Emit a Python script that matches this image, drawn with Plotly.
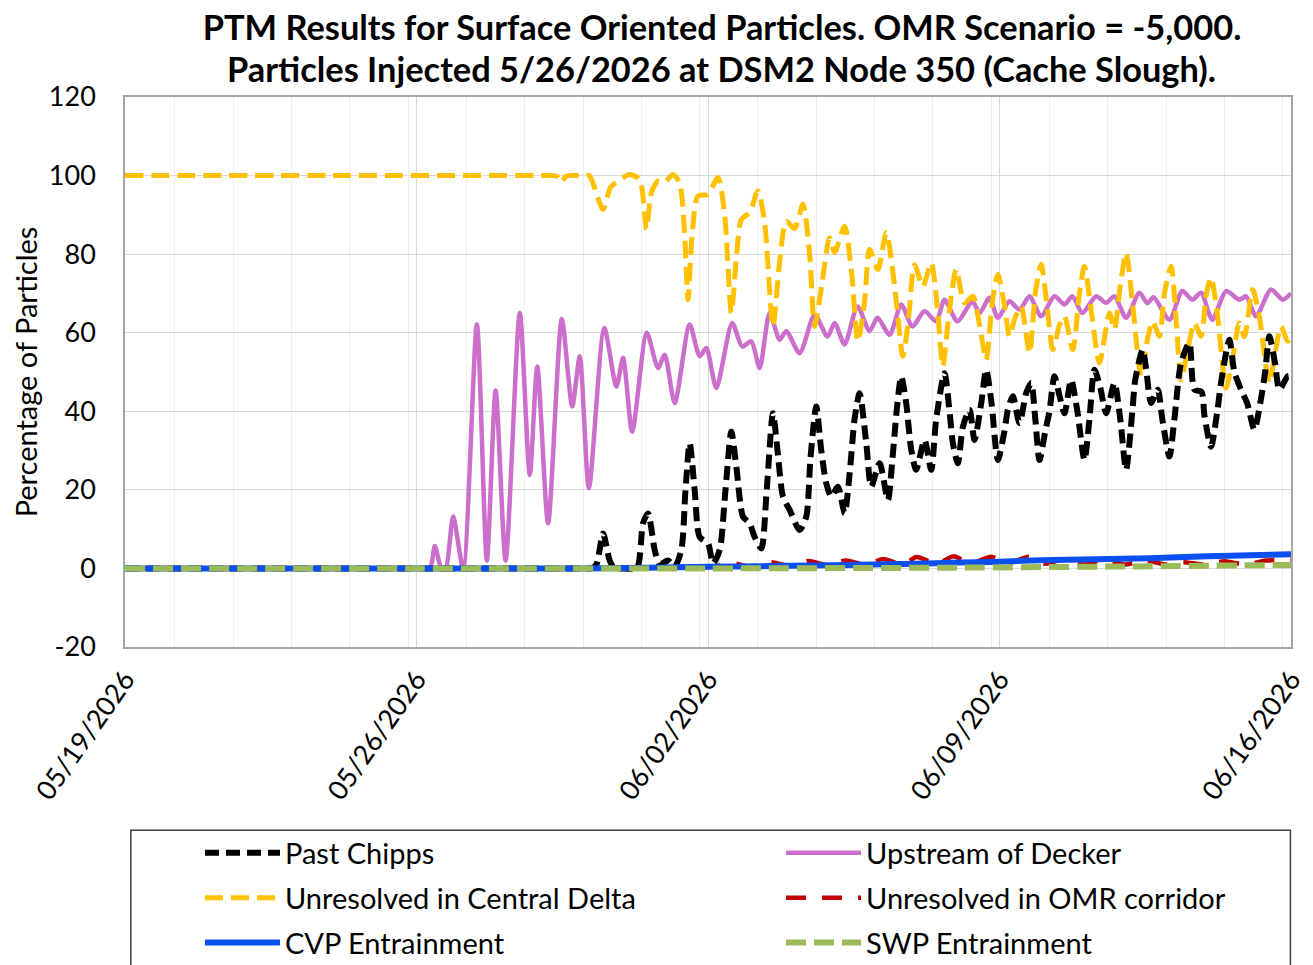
import pandas as pd
import plotly.graph_objects as go

START = pd.Timestamp("2026-05-19")

# ---------------- data (days since 05/19/2026 00:00, percent of particles) -------------
chipps_day = [0, 5, 10, 11.0, 11.2, 11.32, 11.48, 11.64, 11.76, 12.0, 12.29, 12.44, 12.56, 12.72, 12.84, 13.04,
              13.2, 13.36, 13.46,
              13.56, 13.68, 13.8, 14.0, 14.12, 14.28, 14.42, 14.56, 14.69, 14.84, 15.0, 15.12, 15.28, 15.41,
              15.56, 15.67, 15.8, 15.96, 16.2, 16.36, 16.46, 16.6, 16.72, 16.84, 16.96, 17.12, 17.28, 17.4,
              17.52, 17.64, 17.8, 17.92, 18.12, 18.32, 18.43, 18.53, 18.64, 18.76, 18.88, 19.0, 19.2, 19.36,
              19.48, 19.68, 19.8, 19.88, 20.0, 20.12, 20.28, 20.4, 20.56, 20.68, 20.81, 20.96, 21.12, 21.2,
              21.32, 21.48, 21.64, 21.76, 21.86, 21.96, 22.1, 22.2, 22.32, 22.44, 22.56, 22.72, 22.87, 23.04,
              23.16, 23.28, 23.42, 23.56, 23.76, 23.9, 24.04, 24.19, 24.26, 24.44, 24.53, 24.64, 24.8, 24.91,
              25.08, 25.2, 25.36, 25.56, 25.68, 25.85, 25.92, 26.08, 26.23, 26.33, 26.52, 26.64, 26.8, 26.95,
              27.12, 27.26, 27.38, 27.48, 27.62, 27.72, 27.92, 28.0]
chipps_pct = [0, 0, 0, 0, 0, 1, 8.9, 2, 0, 0, 0, 11.5, 14, 4.7, 1, 2,
              0.5, 4.7, 20,
              31.9, 20, 8, 6.4, 1.3, 4.7, 20, 34.8, 25, 13.2, 11.5, 8, 5.1, 20,
              39.5, 30, 18.3, 14.9, 9.8, 13.2, 28, 41.2, 30, 21.7, 18.3, 20.8, 14, 24,
              38, 44.6, 32, 20.8, 26.8, 17.4, 28, 40, 48.9, 42, 30.2, 25.1, 32.7, 25.1,
              38, 49.7, 40, 31.9, 26.8, 36, 40.4, 32.7, 42, 50.6, 42, 27.6, 35, 40.4,
              43.8, 37, 44.6, 47.2, 38, 27.6, 35, 40, 48.9, 44, 39.5, 48, 40, 27.6,
              38, 50.6, 46, 39.5, 47.2, 38, 25.1, 40, 48, 55.7, 50, 42.1, 45.5, 38,
              28.5, 38, 52.3, 57.4, 45.5, 45, 39, 31, 40, 48, 58.2, 50, 45.5, 42,
              35.3, 42, 50, 59.1, 52, 45.5, 48.9, 49]

decker_day = [0, 3.5, 7.0, 7.32, 7.44, 7.6, 7.7, 7.88, 8.12, 8.45, 8.69, 8.9, 9.14, 9.48, 9.72, 9.9, 10.16, 10.49,
              10.74, 10.92, 11.14, 11.51, 11.8, 11.96, 12.18, 12.53, 12.8, 12.96, 13.2, 13.56, 13.8, 13.96,
              14.2, 14.58, 14.82, 15.04, 15.24, 15.48, 15.72, 15.88, 16.2, 16.56, 16.87, 17.04, 17.28, 17.59,
              17.88, 18.07, 18.36, 18.64, 18.91, 19.2, 19.48, 19.68, 19.99, 20.35, 20.52, 20.76, 20.96, 21.24,
              21.48, 21.72, 22.0, 22.32, 22.56, 22.75, 22.99, 23.32, 23.56, 23.76, 24.04, 24.36, 24.55, 24.7,
              25.08, 25.39, 25.63, 25.84, 26.11, 26.44, 26.76, 26.92, 27.16, 27.52, 27.8, 28.0]
decker_pct = [0, 0, 0, 0, 5.7, 0, 0, 13.2, 0, 62.1, 2, 45.3, 2, 65, 23.8, 51.4, 11.5, 63.5,
              41.2, 54, 20.4, 61.2, 46.3, 53.6, 34.8, 60, 51, 54.4, 42.1, 62.1, 54, 56.1,
              45.9, 62.5, 56.5, 57.8, 51, 65, 58.2, 60.4, 54.8, 64.6, 59, 62.5, 57, 66.7,
              60.4, 63.8, 59.5, 67.2, 61.6, 65.5, 62.9, 68.4, 62.9, 68, 65, 68.9, 63.8, 68,
              65.9, 69.3, 64.2, 69.3, 67.2, 69.3, 65, 69.3, 67.6, 69.3, 63.8, 70.2, 67.5, 69,
              63.3, 70.6, 68.4, 70.2, 63.3, 70.6, 68.4, 69.3, 64.2, 71, 68.4, 70]

central_day = [0, 5, 10.0, 10.28, 10.38, 10.48, 10.58, 10.7, 11.0, 11.15, 11.48, 11.66, 11.96, 12.12, 12.36,
               12.52, 12.64, 12.8, 12.96,
               13.16, 13.32, 13.44, 13.52, 13.62, 13.76, 14.0, 14.24, 14.4, 14.56, 14.69, 14.8, 15.0, 15.2,
               15.36, 15.56, 15.72, 15.88, 16.08, 16.28, 16.44, 16.56, 16.73, 16.92, 17.04, 17.28, 17.45,
               17.6, 17.76, 17.88, 18.08, 18.28, 18.48, 18.68, 18.81, 18.96, 19.16, 19.36, 19.51, 19.64,
               19.8, 19.96, 20.16, 20.36, 20.52, 20.68, 20.83, 20.96, 21.12, 21.24, 21.38, 21.52, 21.72,
               21.86, 22.0, 22.13, 22.28, 22.44, 22.56, 22.76, 22.92, 23.04, 23.21, 23.4, 23.64, 23.76,
               23.9, 24.04, 24.19, 24.4, 24.53, 24.68, 24.84, 24.96, 25.12, 25.25, 25.36, 25.51, 25.68,
               25.84, 25.97, 26.08, 26.23, 26.44, 26.59, 26.76, 26.88, 27.08, 27.24, 27.48, 27.62, 27.76,
               27.92, 28.0]
central_pct = [100, 100, 100, 100, 99.8, 98.3, 99.8, 100, 100, 100, 91.4, 97, 99.5, 100.3, 99,
               86.3, 95.7, 98.6, 98.3,
               100.3, 98, 85, 68.4, 85, 94.8, 95.2, 99.5, 90, 65, 80, 88.8, 90.6, 96.1,
               88, 61.6, 78, 88.4, 86.5, 92.7, 80, 61.6, 72, 84.2, 80.4, 87.1, 75,
               57.8, 68, 81.2, 76.1, 85.5, 72, 54, 63, 77.3, 71.8, 77.8, 66, 51.4,
               66, 76.1, 67.6, 69.3, 62, 53.1, 68, 74.8, 67, 59.1, 64, 66.7, 54.8,
               70, 77.4, 68, 55.7, 62, 64.2, 55.7, 70, 76.9, 65, 52.3, 65, 60.8,
               72, 80.4, 68, 48.9, 57, 62.9, 59.1, 70, 76.9, 62, 48, 55, 62.5,
               59.1, 70, 74, 65, 45.9, 53, 62.5, 59, 71, 64, 47.2, 55, 61.6,
               57.8, 59]

omr_day = [0, 6, 12.0, 12.6, 13.2, 13.6, 14.0, 14.6, 15.0, 15.5, 16.0, 16.4, 16.9, 17.3, 17.8, 18.2, 18.7, 19.0,
           19.5, 19.9, 20.3, 20.8, 21.2, 21.7, 22.1, 22.6, 23.0, 23.5, 24.0, 24.5, 25.0, 25.4, 25.9,
           26.4, 26.9, 27.4, 28.0]
omr_pct = [0, 0, 0, 0, 0.3, 0.8, 0.3, 1.3, 0.5, 1.6, 0.6, 1.9, 0.8, 2.0, 0.9, 2.4, 1.0, 2.9,
           1.2, 3.1, 1.3, 3.0, 1.3, 3.0, 1.2, 2.5, 1.0, 2.2, 1.0, 2.0, 1.0, 1.6, 1.0,
           1.8, 1.0, 2.0, 2.2]

cvp_day = [0, 5, 10.0, 11.0, 14.0, 17.0, 19.0, 20.0, 21.0, 22.0, 24.6, 26.0, 28.0]
cvp_pct = [0, 0, 0, 0, 0.4, 0.8, 1.2, 1.5, 1.7, 2.1, 2.6, 3.1, 3.6]

swp_day = [0, 7, 14.0, 20.0, 24.0, 28.0]
swp_pct = [0, 0, 0, 0.2, 0.5, 0.9]

tick_dates = ["2026-05-19", "2026-05-26", "2026-06-02", "2026-06-09", "2026-06-16"]
y_ticks = [-20, 0, 20, 40, 60, 80, 100, 120]
y_tick_text = ["-20", "0", "20", "40", "60", "80", "100", "120"]

TITLE_1 = "PTM Results for Surface Oriented Particles. OMR Scenario = -5,000."
TITLE_2 = "Particles Injected 5/26/2026 at DSM2 Node 350 (Cache Slough)."


def to_dt(days):
    return [START + pd.Timedelta(days=d) for d in days]


FONT = "Lato"
# (name, days, values, colour, width, dash, legend column, legend rank); listed in draw order
series = [
    ("Upstream of Decker", decker_day, decker_pct, "#CC6ECC", 4.5, "solid", "legend2", 2),
    ("Unresolved in Central Delta", central_day, central_pct, "#FFC000", 5, "18px,8px", "legend", 3),
    ("Past Chipps", chipps_day, chipps_pct, "#000000", 6, "14px,7px", "legend", 1),
    ("Unresolved in OMR corridor", omr_day, omr_pct, "#C00000", 4.5, "20px,16px", "legend2", 4),
    ("CVP Entrainment", cvp_day, cvp_pct, "#0A50F0", 6, "solid", "legend", 5),
    ("SWP Entrainment", swp_day, swp_pct, "#9BBB59", 6, "20px,8px", "legend2", 6),
]

fig = go.Figure()
for name, d, v, color, w, dash, leg, rank in series:
    fig.add_trace(go.Scatter(
        x=to_dt(d), y=v, name=name, mode="lines",
        legend=leg, legendgroup=name, legendrank=rank,
        line=dict(color=color, width=w, dash=dash, shape="spline", smoothing=0.7),
    ))

legend_common = dict(
    orientation="v", xanchor="left", y=-0.328, yanchor="top",
    traceorder="grouped", tracegroupgap=4.2, itemwidth=75,
    borderwidth=0, bgcolor="rgba(0,0,0,0)",
    font=dict(family=FONT, size=29, color="#000000"),
)

# page body has an 8px margin, so figure coordinates are offset by 8px
fig.update_layout(
    width=1313, height=965,
    margin=dict(l=117, r=30, t=89, b=326, autoexpand=False),
    paper_bgcolor="white", plot_bgcolor="white",
    font=dict(family=FONT, color="#000000"),
    title=dict(
        text="<b>" + TITLE_1 + "</b>",
        font=dict(family=FONT, size=34.4, color="#000000"),
        x=0.512, xref="paper", xanchor="center",
        y=0.9915, yref="container", yanchor="top",
    ),
    annotations=[dict(
        text="<b>" + TITLE_2 + "</b>", xref="paper", yref="paper",
        x=0.512, y=1.051, xanchor="center", yanchor="middle", showarrow=False,
        font=dict(family=FONT, size=34.4, color="#000000"),
    )],
    shapes=[dict(
        type="rect", xref="paper", yref="paper",
        x0=0.005, x1=0.9995, y0=-0.333, y1=-0.62,
        line=dict(color="#404040", width=1.5), fillcolor="rgba(0,0,0,0)", layer="above",
    )],
    showlegend=True,
    legend=dict(legend_common, x=0.0643),
    legend2=dict(legend_common, x=0.5626),
)

fig.update_xaxes(
    type="date",
    range=["2026-05-19", "2026-06-16"],
    tickmode="array", tickvals=tick_dates,
    tickformat="%m/%d/%Y", tickangle=-55,
    tickfont=dict(family=FONT, size=27),
    ticks="", ticklabelstandoff=4,
    showgrid=True, gridcolor="#D9D9D9", gridwidth=1.3,
    minor=dict(dtick=1.4 * 86400000, showgrid=True, gridcolor="#EFEFEF", gridwidth=1),
    showline=True, linecolor="#A6A6A6", linewidth=1.5, mirror=True,
    zeroline=False, automargin=False,
)
fig.update_yaxes(
    range=[-20, 120], tickmode="array", tickvals=y_ticks, ticktext=y_tick_text,
    tickfont=dict(family=FONT, size=27),
    ticks="", ticklabelstandoff=22,
    showgrid=True, gridcolor="#D9D9D9", gridwidth=1.3,
    showline=True, linecolor="#A6A6A6", linewidth=1.5, mirror=True,
    zeroline=False, automargin=False,
    title=dict(text="Percentage of Particles", font=dict(family=FONT, size=29), standoff=23),
)

fig.write_html("out.html")
